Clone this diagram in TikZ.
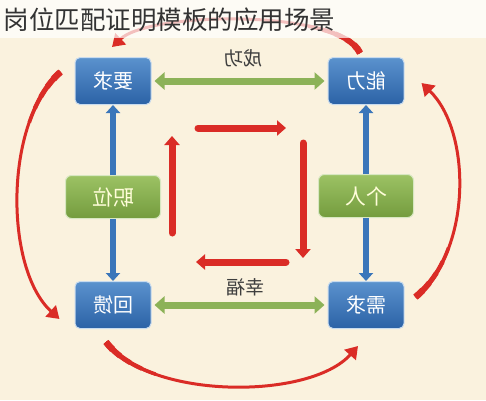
\documentclass[tikz,border=0pt]{standalone}
\usepackage{fontspec}
\setmainfont{Noto Sans CJK SC}
\usetikzlibrary{arrows.meta}

\definecolor{bgcream}{RGB}{250,242,222}
\definecolor{boxblue}{RGB}{72,134,200}
\definecolor{boxbluedark}{RGB}{44,98,166}
\definecolor{boxgreen}{RGB}{156,194,100}
\definecolor{boxgreendark}{RGB}{116,156,62}
\definecolor{arrowblue}{RGB}{58,118,186}
\definecolor{arrowgreen}{RGB}{140,178,88}
\definecolor{arrowred}{RGB}{218,44,38}
\definecolor{labelgray}{RGB}{62,62,62}

\tikzset{
  bluebox/.style={rounded corners=5pt, draw=white!70!boxblue, line width=1pt,
    top color=boxblue!90!white, bottom color=boxbluedark,
    minimum width=76pt, minimum height=47pt, text=white,
    font=\fontsize{20}{22}\selectfont},
  greenbox/.style={rounded corners=6pt, draw=white!60!boxgreen, line width=1pt,
    top color=boxgreen, bottom color=boxgreendark,
    minimum width=95pt, minimum height=43pt, text=white!85!yellow,
    font=\fontsize{21}{23}\selectfont},
  edgelabel/.style={text=labelgray, font=\fontsize{19}{21}\selectfont},
  bluearrow/.style={draw=arrowblue, line width=6pt, -{Triangle[width=14pt,length=8pt]}},
  greenarrow/.style={draw=arrowgreen, line width=7pt,
    {Triangle[width=17pt,length=10pt]}-{Triangle[width=17pt,length=10pt]},
    shorten <=3pt, shorten >=3pt},
  redarrow/.style={draw=arrowred, line width=7pt, line cap=round,
    -{Triangle[width=15pt,length=9pt]}},
  redarc/.style={draw=arrowred, line width=3pt, -{Triangle[width=15pt,length=12pt]}},
  redtail/.style 2 args={draw=arrowred, line width=#1pt, dash pattern=on #2pt off 2000pt},
}

% the four outer arcs, drawn in the given style
\newcommand\outerarcs[1]{%
    \draw[#1] ([shift={(-14,-9)}]yq.west) .. controls +(-57,50) and +(-55,-50) .. ([shift={(-15,14)}]hk.west);
    \draw[#1] ([shift={(-7,13)}]hk.south) .. controls +(44,58) and +(-48,54) .. ([shift={(-8,17)}]xq.south);
    \draw[#1] ([shift={(11,-8)}]xq.east) .. controls +(57,-47) and +(50,48) .. ([shift={(17,2)}]nl.east);
    \draw[#1] ([shift={(-6,-4)}]nl.north) .. controls +(-20,-44) and +(38,-36) .. ([shift={(-1,-10)}]yq.north);
}

\begin{document}
\begin{tikzpicture}[x=1pt, y=-1pt]
    % Background and frame
    \fill[bgcream] (0,0) rectangle (486,400);
    \useasboundingbox (0,0) rectangle (486,400);

    % The six boxes
    \node[bluebox] (yq) at (113,81) {\reflectbox{要求}};
    \node[bluebox] (nl) at (366,81) {\reflectbox{能力}};
    \node[greenbox] (zw) at (113,197) {\reflectbox{职位}};
    \node[greenbox] (gr) at (366,196) {\reflectbox{个人}};
    \node[bluebox] (hk) at (113,305) {\reflectbox{回馈}};
    \node[bluebox] (xq) at (366,305) {\reflectbox{需求}};

    % Arrows between the boxes
    \draw[bluearrow] (zw) -- (yq);
    \draw[bluearrow] (zw) -- (hk);
    \draw[bluearrow] (gr) -- (nl);
    \draw[bluearrow] (gr) -- (xq);
    \draw[greenarrow] (yq) -- (nl);
    \draw[greenarrow] (hk) -- (xq);
    \node[edgelabel] (cg) at (243,58) {\reflectbox{成功}};
    \node[edgelabel] (xf) at (245,287) {\reflectbox{幸福}};

    % The inner square of arrows
    \coordinate (c1) at (198,128);
    \coordinate (c2) at (286,128);
    \coordinate (c3) at (303,143);
    \coordinate (c4) at (303,258);
    \coordinate (c5) at (286,262);
    \coordinate (c6) at (196,262);
    \coordinate (c7) at (172,233);
    \coordinate (c8) at (172,136);
    \draw[redarrow] (c1) -- (c2);
    \draw[redarrow] (c3) -- (c4);
    \draw[redarrow] (c5) -- (c6);
    \draw[redarrow] (c7) -- (c8);

    % The outer arcs (thin line, tapering tail)
    \outerarcs{redarc}
    \foreach \w/\l in {3.6/60, 4.3/45, 5/32, 5.8/20, 6.6/10} {
        \outerarcs{redtail={\w}{\l}}
    }

    % Title band
    \fill[white, opacity=0.7] (0,0) rectangle (486,38);
    \node[anchor=west, text=black!80, font=\fontsize{25.5}{28}\selectfont] (title) at (0,20) {岗位匹配证明模板的应用场景};
\end{tikzpicture}
\end{document}
